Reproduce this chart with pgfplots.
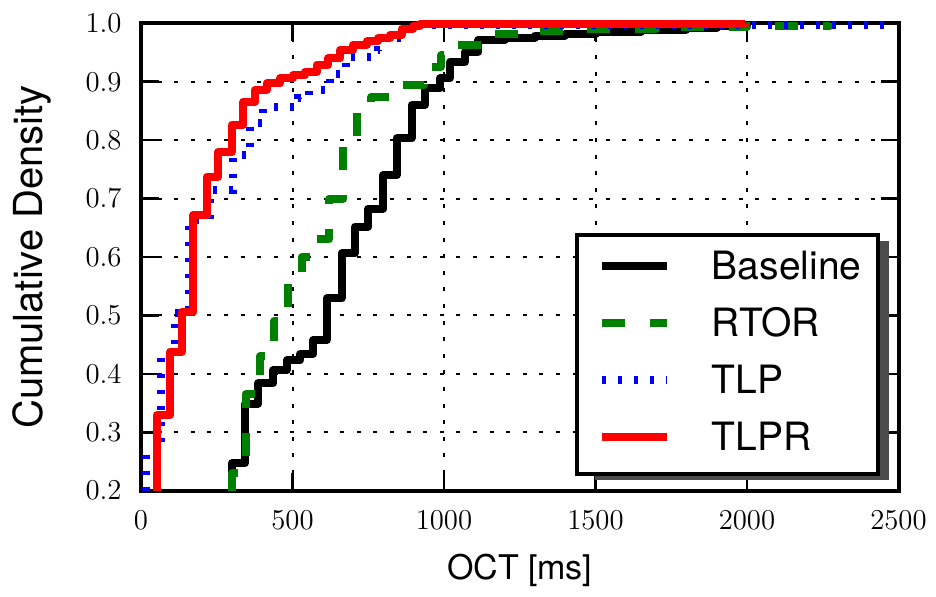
\documentclass[border=0pt]{standalone}
\usepackage{pgfplots}
\pgfplotsset{compat=1.18}
\usepackage{fontspec}
\setmainfont{TeX Gyre Heros}

\begin{document}
\begin{tikzpicture}
\useasboundingbox (-70.5pt,-53.15pt) rectangle (397.5pt,245.35pt);
\begin{axis}[
    scale only axis,
    width=378.75pt, height=233.7pt,
    xmin=0, xmax=2500,
    ymin=0.2, ymax=1.0,
    xtick={0,500,1000,1500,2000,2500},
    ytick={0.2,0.3,0.4,0.5,0.6,0.7,0.8,0.9,1.0},
    clip=false,
    axis line style={line width=2pt},
    tick align=inside,
    major tick length=9pt,
    every tick/.style={black, line width=1.25pt},
    grid=major,
    grid style={black, line width=1pt, dash pattern=on 2pt off 6.3pt},
    xticklabel style={font=\fontsize{15}{15}\selectfont, inner sep=0pt, anchor=north, yshift=-10pt,
        /pgf/number format/1000 sep={}},
    yticklabel style={font=\fontsize{15}{15}\selectfont, inner sep=0pt, anchor=east, xshift=-9.5pt,
        /pgf/number format/fixed, /pgf/number format/precision=1, /pgf/number format/fixed zerofill},
    xlabel={OCT [ms]},
    ylabel={Cumulative Density},
    xlabel style={at={(axis description cs:0.5,0)}, anchor=base, yshift=-44.3pt,
        font=\fontsize{17}{17}\selectfont},
    ylabel style={at={(axis description cs:-0.1446,0.5)}, anchor=center,
        font=\fontsize{20}{20}\selectfont},
    legend cell align=left,
    legend image code/.code={\path (-2.35pt,1.8pt);
        \draw[#1, line cap=butt] (0pt,1.8pt) -- (32.5pt,1.8pt);},
    legend style={at={(1,0)}, anchor=south east, xshift=-9.25pt, yshift=7.2pt,
        draw=black, line width=2pt, fill=white,
        font=\fontsize{19.5}{19.5}\selectfont,
        inner xsep=8.3pt, inner ysep=8.15pt, row sep=10.85pt, column sep=20.35pt,
        nodes={inner sep=0pt, text height=14pt, text depth=3.65pt}},
]

% legend shadow, drawn before the curves; the legend box covers most of it
\fill[black!70] ([xshift=-151.65pt,yshift=5.5pt]rel axis cs:1,0)
    rectangle ([xshift=-4.8pt,yshift=125pt]rel axis cs:1,0);

% Baseline
\addplot[const plot, black, line width=4pt, line join=round] coordinates {
(300,0.2)(300,0.247)(343,0.349)(387,0.384)(437,0.406)(481,0.423)(525,0.434)
(569,0.458)(613,0.529)(662,0.606)(706,0.652)(750,0.683)(800,0.740)(844,0.803)
(893,0.860)(937,0.889)(987,0.906)(1020,0.934)(1069,0.951)(1113,0.971)(1200,0.975)
(1300,0.979)(1400,0.982)(1500,0.985)(1650,0.989)(1800,0.992)(1900,0.995)(1999,1.0)
};
% RTOR
\addplot[const plot, green!50!black, line width=4pt, line join=round, dash pattern=on 11.5pt off 12.5pt] coordinates {
(301,0.2)(301,0.23)(345,0.365)(393,0.43)(440,0.49)(486,0.56)(531,0.60)(578,0.63)
(622,0.70)(668,0.79)(714,0.85)(760,0.874)(845,0.894)(935,0.926)(990,0.945)(1030,0.963)
(1150,0.982)(1290,0.987)(1450,0.99)(1700,0.993)(2000,0.996)(2275,1.0)
};
% TLP
\addplot[const plot, blue, line width=4pt, dash pattern=on 2pt off 6pt] coordinates {
(15,0.2)(15,0.266)(66,0.434)(112,0.505)(158,0.663)(228,0.714)(302,0.775)(360,0.829)
(404,0.857)(519,0.872)(556,0.886)(624,0.914)(677,0.943)(782,0.955)(805,0.974)(865,0.99)
(900,0.997)(2472,1.0)
};
% TLPR
\addplot[const plot, red, line width=4pt, line join=round] coordinates {
(52,0.2)(52,0.329)(96,0.438)(134,0.506)(173,0.672)(217,0.737)(255,0.780)(299,0.826)
(338,0.866)(376,0.886)(415,0.897)(459,0.906)(503,0.911)(541,0.917)(580,0.929)(618,0.940)
(657,0.954)(700,0.963)(745,0.969)(783,0.974)(822,0.980)(860,0.991)(899,0.996)(921,0.998)
(1994,1.0)
};
\legend{Baseline,RTOR,TLP,TLPR}
\end{axis}
\end{tikzpicture}
\end{document}
